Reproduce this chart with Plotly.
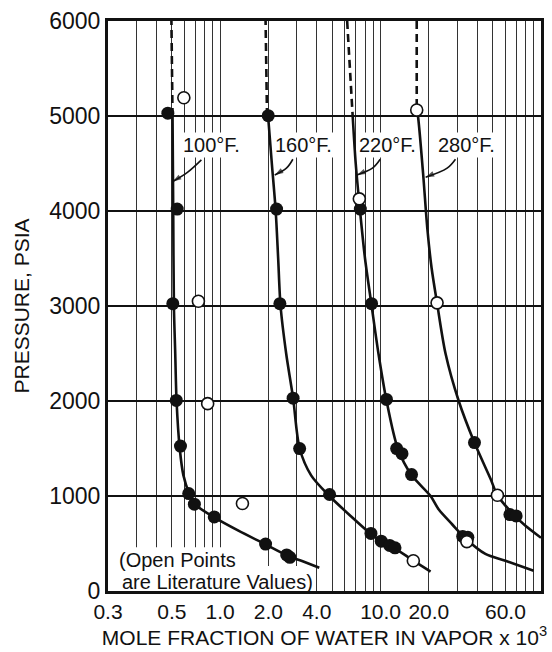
import numpy as np
import plotly.graph_objects as go

# ---------------- axis grid / labels ----------------
x_grid = [0.3, 0.4, 0.5, 0.6, 0.7, 0.8, 0.9, 1, 2, 3, 4, 5, 6, 7, 8, 9,
          10, 20, 30, 40, 50, 60, 70, 80, 90]
x_label_vals = [0.2, 0.5, 1, 2, 4, 10, 20, 60]
x_label_text = ["0.3", "0.5", "1.0", "2.0", "4.0", "10.0", "20.0", "60.0"]
y_ticks = [0, 1000, 2000, 3000, 4000, 5000, 6000]
y_tick_text = ["0", "1000", "2000", "3000", "4000", "5000", "6000"]

# ---------------- smoothed curves ----------------
c100_x = [0.505, 0.51, 0.515, 0.525, 0.535, 0.56, 0.59, 0.64, 0.70, 0.92, 1.3, 1.92, 2.65, 3.3, 4.15]
c100_y = [5000, 4000, 3000, 2500, 2000, 1500, 1220, 1030, 910, 775, 635, 490, 370, 310, 245]
d100_x = [0.505, 0.497]
d100_y = [5000, 6000]

c160_x = [1.99, 2.1, 2.22, 2.3, 2.38, 2.58, 2.85, 3.13, 3.7, 4.8, 6.5, 8.7, 10.1, 12.0, 16.0, 20.5]
c160_y = [5000, 4500, 4000, 3500, 3000, 2500, 2030, 1500, 1215, 1000, 790, 600, 525, 460, 320, 205]
d160_x = [1.96, 1.92]
d160_y = [5000, 6000]

c220_x = [6.7, 7.0, 7.45, 8.0, 8.8, 9.7, 10.9, 12.8, 15.6, 20.5, 23.0, 28.0, 34.0, 45.0, 60.0, 90.0]
c220_y = [5000, 4500, 4000, 3500, 3000, 2500, 2000, 1500, 1220, 1000, 860, 700, 550, 390, 318, 213]
d220_x = [6.19, 6.45, 6.7]
d220_y = [6000, 5500, 5000]

c280_x = [16.8, 17.1, 18.4, 19.6, 20.8, 22.5, 25.4, 30.7, 38.5, 48.6, 53.5, 68.0, 80.0, 100.0]
c280_y = [5060, 5000, 4400, 3800, 3400, 3030, 2500, 2000, 1560, 1176, 1008, 798, 686, 560]
d280_x = [16.8, 16.8]
d280_y = [6000, 5060]

# ---------------- experimental (filled) points ----------------
f100_x = [0.472, 0.54, 0.507, 0.533, 0.566, 0.637, 0.691, 0.919, 1.92, 2.6, 2.72]
f100_y = [5030, 4020, 3025, 2006, 1526, 1026, 914, 780, 494, 380, 355]
f160_x = [1.994, 2.248, 2.357, 2.85, 3.13, 4.81, 8.71, 10.1, 11.4, 12.3]
f160_y = [5003, 4020, 3025, 2030, 1499, 1016, 606, 525, 480, 455]
f220_x = [7.48, 8.79, 10.88, 12.6, 13.6, 15.6, 32.5, 35.0]
f220_y = [4020, 3025, 2017, 1499, 1446, 1226, 575, 565]
f280_x = [38.5, 64.0, 70.0]
f280_y = [1562, 805, 790]

# ---------------- literature (open) points ----------------
o100_x = [0.594, 0.732, 0.836, 1.377]
o100_y = [5192, 3050, 1972, 921]
o160_x = [2.06, 16.0]
o160_y = [6050, 318]
o220_x = [7.37, 34.5]
o220_y = [4128, 520]
o280_x = [16.8, 22.5, 53.5]
o280_y = [5063, 3033, 1008]

# ---------------- labels and their pointer arrows ----------------
temp_labels = ["100°F.", "160°F.", "220°F.", "280°F."]
label_x = [0.881, 3.32, 11.07, 34.1]
label_y = [4695, 4695, 4695, 4695]
# arrow paths: tail -> bend -> head (head touches the curve)
arrow_x = [[0.764, 0.628, 0.507], [2.84, 2.59, 2.19], [9.95, 8.9, 7.13], [29.3, 26.0, 19.1]]
arrow_y = [[4538, 4409, 4310], [4545, 4451, 4380], [4545, 4451, 4380], [4545, 4451, 4356]]

FONT = "Liberation Sans, Arial, sans-serif"
BLACK = "#111111"

fig = go.Figure()

curves = [(c100_x, c100_y, d100_x, d100_y), (c160_x, c160_y, d160_x, d160_y),
          (c220_x, c220_y, d220_x, d220_y), (c280_x, c280_y, d280_x, d280_y)]
for i, (cx, cy, dx, dy) in enumerate(curves):
    fig.add_trace(go.Scatter(x=cx, y=cy, mode="lines", line=dict(color=BLACK, width=2.6, shape="spline", smoothing=0.8),
                             showlegend=False, hoverinfo="skip", name=temp_labels[i]))
    fig.add_trace(go.Scatter(x=dx, y=dy, mode="lines", line=dict(color=BLACK, width=2.6, dash="8px,5px"),
                             showlegend=False, hoverinfo="skip"))

for ax_, ay_ in zip(arrow_x, arrow_y):
    fig.add_trace(go.Scatter(x=ax_, y=ay_, mode="lines+markers",
                             line=dict(color=BLACK, width=1.6, shape="spline", smoothing=1),
                             marker=dict(symbol=["circle", "circle", "arrow"], size=[0, 0, 9],
                                         angleref="previous", color=BLACK, line=dict(width=0)),
                             showlegend=False, hoverinfo="skip"))

for fx, fy in [(f100_x, f100_y), (f160_x, f160_y), (f220_x, f220_y), (f280_x, f280_y)]:
    fig.add_trace(go.Scatter(x=fx, y=fy, mode="markers", cliponaxis=False,
                             marker=dict(size=13, color=BLACK, line=dict(width=0)),
                             showlegend=False, name="Experimental"))
for ox, oy in [(o100_x, o100_y), (o160_x, o160_y), (o220_x, o220_y), (o280_x, o280_y)]:
    fig.add_trace(go.Scatter(x=ox, y=oy, mode="markers", cliponaxis=False,
                             marker=dict(size=12, color="white", line=dict(width=1.6, color=BLACK)),
                             showlegend=False, name="Literature"))

annotations = []
for t, lx, ly in zip(temp_labels, label_x, label_y):
    annotations.append(dict(x=np.log10(lx), y=ly, xref="x", yref="y", text=t, showarrow=False,
                            font=dict(family=FONT, size=20, color=BLACK), bgcolor="white"))

note_lines = ["(Open Points", "are Literature Values)"]
annotations.append(dict(x=np.log10(0.227), y=330, xref="x", yref="y", text=note_lines[0], xanchor="left",
                        showarrow=False, font=dict(family=FONT, size=20, color=BLACK)))
annotations.append(dict(x=np.log10(0.237), y=100, xref="x", yref="y", text=note_lines[1], xanchor="left",
                        showarrow=False, font=dict(family=FONT, size=20, color=BLACK)))

shapes = [
    dict(type="rect", xref="x", yref="y", x0=0.2, x1=1.25, y0=0, y1=460, layer="between",
         fillcolor="white", line=dict(width=0)),
    dict(type="rect", xref="x", yref="y", x0=0.2, x1=3.9, y0=0, y1=262, layer="between",
         fillcolor="white", line=dict(width=0)),
]

fig.update_layout(
    width=552, height=652,
    margin=dict(l=108, r=8, t=20, b=60),
    paper_bgcolor="white", plot_bgcolor="white",
    annotations=annotations, shapes=shapes,
    font=dict(family=FONT, color=BLACK),
    xaxis=dict(type="log", range=[np.log10(0.2), 2], tickvals=x_label_vals, ticktext=x_label_text,
               showgrid=True, gridcolor="#333333", gridwidth=1, zeroline=False,
               minor=dict(tickvals=x_grid, showgrid=True, gridcolor="#333333", gridwidth=1, ticks=""),
               showline=True, linecolor=BLACK, linewidth=3, mirror=True, ticks="",
               tickfont=dict(family=FONT, size=21, color=BLACK),
               title=dict(text="MOLE FRACTION OF WATER IN VAPOR x 10<sup>3</sup>",
                          font=dict(family=FONT, size=21, color=BLACK), standoff=6)),
    yaxis=dict(range=[0, 6000], tickvals=y_ticks, ticktext=y_tick_text,
               showgrid=True, gridcolor=BLACK, gridwidth=1.6, zeroline=False,
               showline=True, linecolor=BLACK, linewidth=3, mirror=True, ticks="",
               tickfont=dict(family=FONT, size=23, color=BLACK),
               title=dict(text="PRESSURE, PSIA", font=dict(family=FONT, size=21, color=BLACK), standoff=14)),
)

fig.write_html("out.html")
